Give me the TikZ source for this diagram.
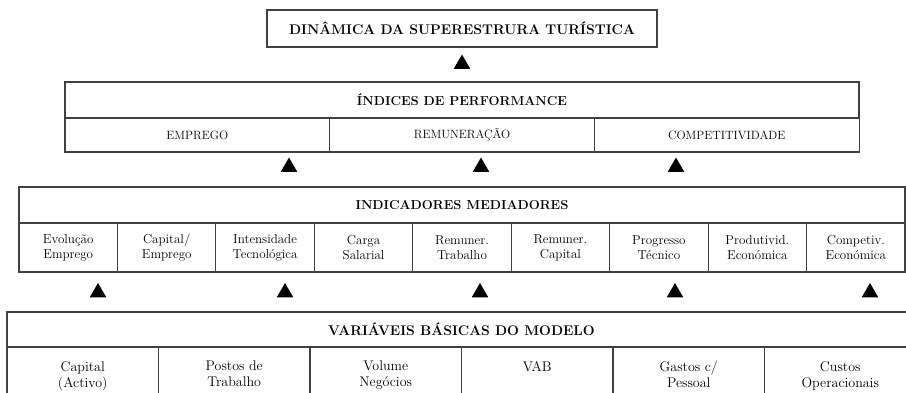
\documentclass[tikz,border=0pt]{standalone}
\usepackage[x11names,svgnames]{xcolor}
\usepackage{tikz}
\usetikzlibrary{shapes.geometric}

\tikzset{
  box/.style={draw=black!75,line width=1.1pt,rectangle,inner sep=0pt,align=center},
  head/.style={box,font=\bfseries\fontsize{13}{15}\selectfont},
  cell/.style={box,font=\fontsize{13}{15}\selectfont},
  tri/.style={regular polygon,regular polygon sides=3,fill=black,inner sep=0pt,minimum size=19pt}
}

\begin{document}
\begin{tikzpicture}[x=1pt,y=-1pt]
\clip (0,0) rectangle (906,392);

% top level
\node[head,minimum width=390pt,minimum height=37pt,font=\bfseries\fontsize{14}{16}\selectfont] (dinamica) at (462,28.5) {DINÂMICA DA SUPERESTRURA TURÍSTICA};
\node[tri] (t0) at (462,64) {};

% performance
\node[head,minimum width=794pt,minimum height=36pt] (indices) at (462,100) {ÍNDICES DE PERFORMANCE};
\foreach \x/\n/\t in {197.3/emprego/EMPREGO, 462/remuneracao/REMUNERAÇÃO, 726.7/competitividade/COMPETITIVIDADE}
  \node[box,minimum width=264.7pt,minimum height=34pt,font=\fontsize{12}{14}\selectfont] (\n) at (\x,135) {\t};

\foreach \x/\n in {289/t1, 481/t2, 676/t3}
  \node[tri] (\n) at (\x,167) {};

% mediadores
\node[head,minimum width=886pt,minimum height=36pt] (mediadores) at (462,205) {INDICADORES MEDIADORES};
\foreach \x/\n/\t in {68.2/evolucao/{Evolução\\Emprego}, 166.7/capemp/{Capital/\\Emprego},
                      265.1/intensidade/{Intensidade\\Tecnológica}, 363.6/carga/{Carga\\Salarial},
                      462/remtrab/{Remuner.\\Trabalho}, 560.4/remcap/{Remuner.\\Capital},
                      658.9/progresso/{Progresso\\Técnico}, 757.3/produtivid/{Produtivid.\\Económica},
                      855.8/competiv/{Competiv.\\Económica}}
  \node[cell,minimum width=98.44pt,minimum height=49pt] (\n) at (\x,247.5) {\t};

\foreach \x/\n in {98/t4, 285/t5, 480/t6, 675/t7, 870/t8}
  \node[tri] (\n) at (\x,292.5) {};

% variaveis basicas
\node[head,minimum width=909pt,minimum height=35pt,font=\bfseries\fontsize{14}{16}\selectfont] (variaveis) at (461.5,329.5) {VARIÁVEIS BÁSICAS DO MODELO};
\foreach \x/\n/\t in {82.75/capital/{Capital\\(Activo)}, 234.25/postos/{Postos de\\Trabalho},
                      385.75/volume/{Volume\\Negócios}, 537.25/vab/VAB,
                      688.75/gastos/{Gastos c/\\Pessoal}, 840.25/custos/{Custos\\Operacionais}} {
  \node[box,minimum width=151.5pt,minimum height=63pt] (\n) at (\x,378.5) {};
  \node[align=center,anchor=north,inner sep=0pt,font=\fontsize{14}{16}\selectfont] (\n-txt) at (\x,361) {\t};
}

\end{tikzpicture}
\end{document}
